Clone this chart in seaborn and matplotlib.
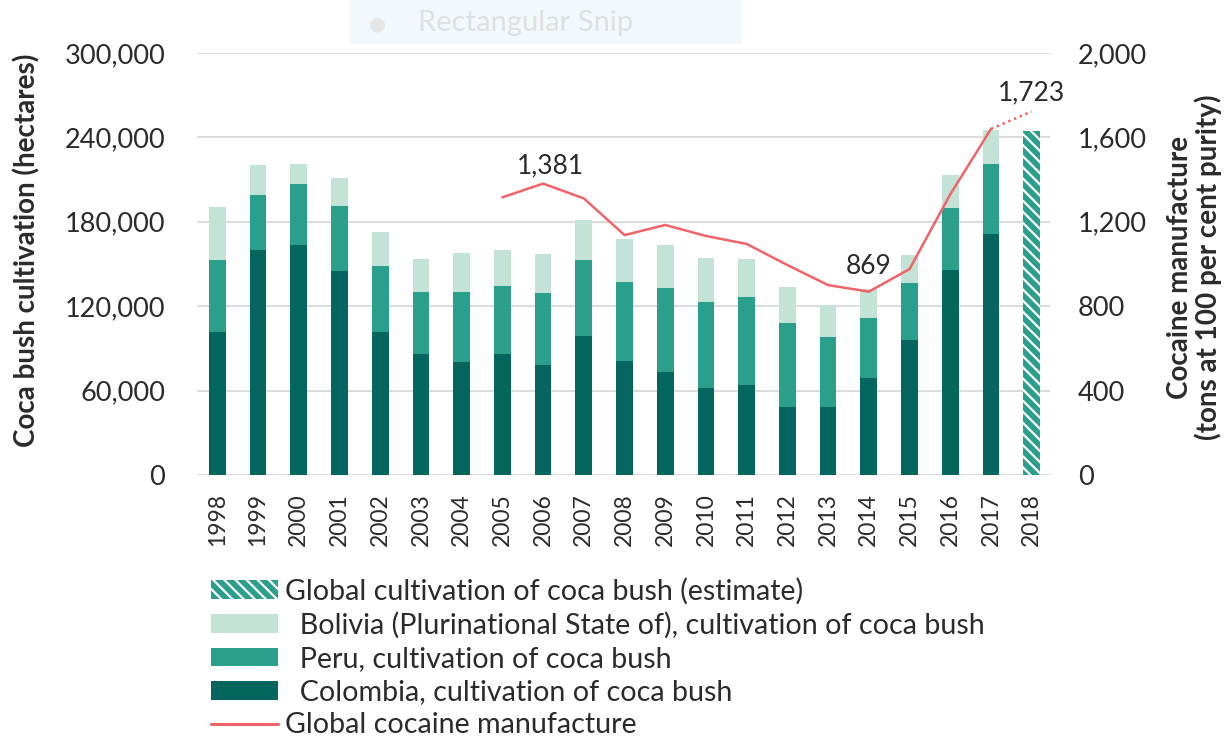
import numpy as np
import pandas as pd
import matplotlib
matplotlib.use("Agg")
import matplotlib.pyplot as plt
import seaborn as sns
from matplotlib.patches import Patch, FancyBboxPatch
from matplotlib.lines import Line2D
from matplotlib.ticker import FuncFormatter, FixedLocator

# ---------------- data ----------------
years = [str(y) for y in range(1998, 2019)]
colombia = [101800, 160100, 163300, 144800, 102000, 86000, 80000, 86000, 78000, 99000,
            81000, 73000, 62000, 64000, 48000, 48000, 69000, 96000, 146000, 171000, np.nan]
peru = [51000, 38700, 43400, 46200, 46700, 44200, 50300, 48200, 51400, 53700,
        56100, 59900, 61200, 62500, 60400, 49800, 42900, 40300, 43900, 49900, np.nan]
bolivia = [38000, 21800, 14600, 19900, 24400, 23600, 27700, 25400, 27500, 28900,
           30500, 30900, 31000, 27200, 25300, 23000, 20400, 20200, 23100, 24500, np.nan]
global_estimate = [np.nan] * 20 + [244200]

manuf_years = list(range(2005, 2018))
manufacture = [1316, 1381, 1311, 1137, 1185, 1133, 1095, 995, 900, 869, 976, 1330, 1640]
est_years = [2017, 2018]
manufacture_est = [1640, 1723]

left_ticks = [0, 60000, 120000, 180000, 240000, 300000]
right_ticks = [0, 400, 800, 1200, 1600, 2000]

labels_legend = ["Global cultivation of coca bush (estimate)",
                 "  Bolivia (Plurinational State of), cultivation of coca bush",
                 "  Peru, cultivation of coca bush",
                 "  Colombia, cultivation of coca bush",
                 "Global cocaine manufacture"]

# ---------------- style ----------------
C_DARK = "#04665e"
C_MID = "#2aa08c"
C_LIGHT = "#c2e3d6"
C_RED = "#f06469"
TXT = "#2b2b2b"

sns.set_style("white")
plt.rcParams["font.family"] = ["Lato", "DejaVu Sans"]
plt.rcParams["hatch.linewidth"] = 1.6
plt.rcParams["text.color"] = TXT

df = pd.DataFrame({"year": years,
                   "colombia": colombia,
                   "peru_top": np.array(colombia) + np.array(peru),
                   "total": np.array(colombia) + np.array(peru) + np.array(bolivia),
                   "estimate": global_estimate})

fig = plt.figure(figsize=(12.31, 7.38), dpi=100)
rect = [197 / 1231, 1 - 475 / 738, (1050 - 197) / 1231, (475 - 53) / 738]
ax = fig.add_axes(rect)

W = 0.41
sns.barplot(data=df, x="year", y="total", order=years, color=C_LIGHT, saturation=1,
            width=W, edgecolor="none", ax=ax)
sns.barplot(data=df, x="year", y="peru_top", order=years, color=C_MID, saturation=1,
            width=W, edgecolor="none", ax=ax)
sns.barplot(data=df, x="year", y="colombia", order=years, color=C_DARK, saturation=1,
            width=W, edgecolor="none", ax=ax)
n_before = len(ax.patches)
sns.barplot(data=df, x="year", y="estimate", order=years, color=C_MID, saturation=1,
            width=W, edgecolor="white", linewidth=0, ax=ax)
for p in ax.patches[n_before:]:
    p.set_hatch("\\\\\\")
    p.set_edgecolor("white")
    p.set_linewidth(0)

ax.set_xlim(-0.5, 20.45)
ax.set_ylim(0, 300000)
ax.yaxis.set_major_locator(FixedLocator(left_ticks))
ax.yaxis.set_major_formatter(FuncFormatter(lambda v, p: f"{int(v):,}"))
ax.yaxis.grid(True, color="#d9d9d9", linewidth=1.3)
ax.set_axisbelow(True)
for s in ax.spines.values():
    s.set_visible(False)
ax.tick_params(axis="y", length=0, labelsize=19.5, labelcolor=TXT, pad=23)
ax.tick_params(axis="x", length=0, labelsize=16.5, labelcolor=TXT, rotation=90, pad=13)
ax.set_xlabel("")
ax.set_ylabel("Coca bush cultivation (hectares)", fontsize=20, fontweight="bold",
              color=TXT)
ax.yaxis.set_label_coords(-0.183, 0.533)

# ---------------- line on second axis ----------------
ax2 = fig.add_axes(rect, frameon=False)
ax2.patch.set_alpha(0)
sns.lineplot(x=[y - 1998 for y in manuf_years], y=manufacture, color=C_RED,
             linewidth=1.8, ax=ax2)
sns.lineplot(x=[y - 1998 for y in est_years], y=manufacture_est, color=C_RED,
             linewidth=1.8, linestyle=(0, (1, 1.5)), ax=ax2)
ax2.set_xlim(-0.5, 20.45)
ax2.set_ylim(0, 2000)
ax2.xaxis.set_visible(False)
ax2.yaxis.tick_right()
ax2.yaxis.set_label_position("right")
ax2.yaxis.set_major_locator(FixedLocator(right_ticks))
ax2.yaxis.set_major_formatter(FuncFormatter(lambda v, p: f"{int(v):,}"))
ax2.tick_params(axis="y", length=0, labelsize=19.5, labelcolor=TXT, pad=20)
ax2.set_ylabel("Cocaine manufacture\n(tons at 100 per cent purity)", fontsize=20,
               fontweight="bold", color=TXT, linespacing=1.05)
ax2.yaxis.set_label_coords(1.137, 0.493)
ax2.grid(False)

ann_kw = dict(textcoords="offset pixels", ha="center", va="center", fontsize=19, color=TXT)
ax2.annotate("1,381", xy=(2006 - 1998, 1381), xytext=(7, 18), **ann_kw)
ax2.annotate("869", xy=(2014 - 1998, 869), xytext=(0, 25), **ann_kw)
ax2.annotate("1,723", xy=(2018 - 1998, 1723), xytext=(0, 19), **ann_kw)

# ---------------- legend ----------------
handles = [Patch(facecolor=C_MID, hatch="\\\\\\", edgecolor="white", linewidth=0),
           Patch(facecolor=C_LIGHT, edgecolor="none"),
           Patch(facecolor=C_MID, edgecolor="none"),
           Patch(facecolor=C_DARK, edgecolor="none"),
           Line2D([], [], color=C_RED, linewidth=2.2)]
fig.legend(handles, labels_legend, loc="upper left",
           bbox_to_anchor=(211 / 1231, 1 - 578 / 738), frameon=False,
           fontsize=20.6, handlelength=2.35, handleheight=0.63, handletextpad=0.25,
           labelspacing=0.25, borderpad=0, borderaxespad=0)

# ---------------- screenshot artefact at top ----------------
box = FancyBboxPatch((350 / 1231, 1 - 44 / 738), 392 / 1231, 44 / 738,
                     boxstyle="square,pad=0", transform=fig.transFigure,
                     facecolor="#f3f8fd", edgecolor="none", zorder=0)
fig.patches.append(box)
fig.text(377 / 1231, 1 - 24 / 738, "\u25cf", fontsize=14, color="#e6e6e6",
         ha="center", va="center", family="DejaVu Sans")
fig.text(418 / 1231, 1 - 23 / 738, "Rectangular Snip", fontsize=21, color="#e0e0e0",
         ha="left", va="center")

fig.savefig("out.png", dpi=100, facecolor="white")
